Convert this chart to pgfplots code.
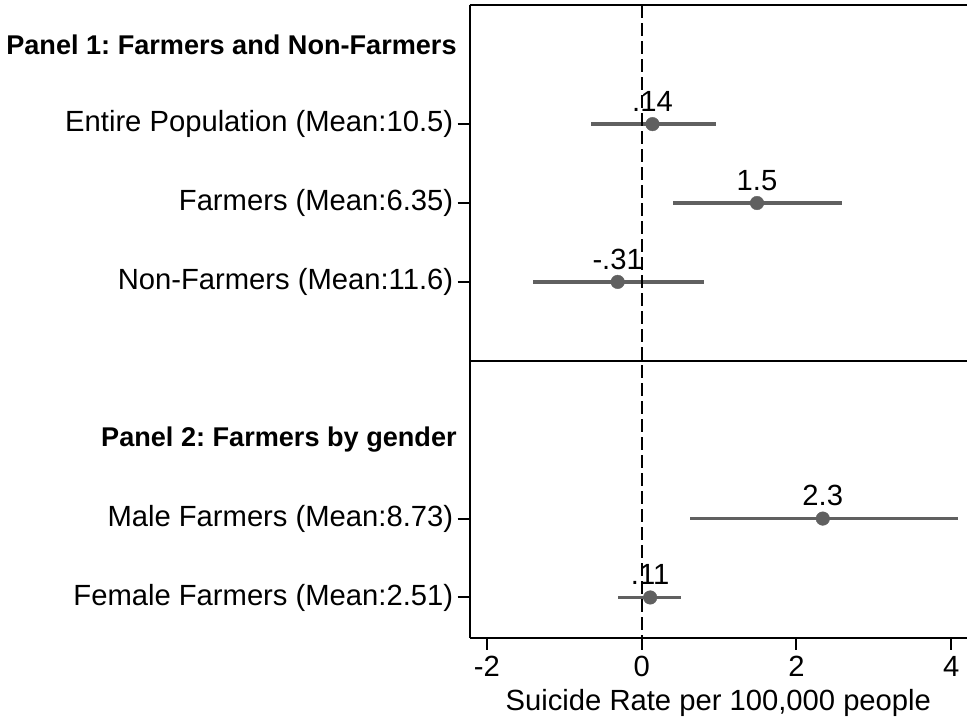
\documentclass[border=0pt]{standalone}
\usepackage{pgfplots}
\pgfplotsset{compat=1.18}
\usepackage{pgfplotstable}
\usepackage{fontspec}
\setmainfont{Liberation Sans}
\frenchspacing
\definecolor{ptgray}{RGB}{96,96,96}

\pgfplotstableread{
x y ep em lab
0.14 2 0.82 0.795 .14
1.49 3 1.10 1.09 1.5
-0.31 4 1.12 1.09 -.31
2.34 7 1.75 1.71 2.3
0.11 8 0.40 0.42 .11
}\estimates

\begin{document}
\begin{tikzpicture}
\begin{axis}[
  scale only axis,
  width=497.3pt, height=632.7pt,
  xmin=-2.222, xmax=4.203,
  ymin=0.49, ymax=8.51,
  y dir=reverse,
  axis x line*=box,
  axis y line*=left,
  axis line style={-, line width=2pt, black},
  xtick pos=left, ytick pos=left,
  tick align=outside,
  major tick length=12pt,
  every tick/.style={black, line width=2pt},
  xtick={-2,0,2,4},
  xticklabels={-2,0,2,4},
  ytick={2,3,4,7,8},
  yticklabels={Entire Population (Mean:10.5),Farmers (Mean:6.35),Non-Farmers (Mean:11.6),Male Farmers (Mean:8.73),Female Farmers (Mean:2.51)},
  extra y ticks={1,6},
  extra y tick labels={Panel 1: Farmers and Non-Farmers,Panel 2: Farmers by gender},
  extra y tick style={major tick length=0pt, tick label style={font=\fontsize{27.1}{30}\selectfont\bfseries, xshift=-8.5pt}},
  tick label style={font=\fontsize{29.2}{34}\selectfont},
  yticklabel style={xshift=-1pt},
  xticklabel style={yshift=-3pt},
  /pgf/number format/assume math mode=true,
  xlabel={Suicide Rate per 100,000 people},
  xlabel style={font=\fontsize{29.2}{34}\selectfont, yshift=-6pt},
  clip=false,
]
\addplot[only marks, mark=*, mark size=6.8pt, color=ptgray,
  error bars/.cd, x dir=both, x explicit, error mark=none,
  error bar style={line width=3.4pt, ptgray}]
  table[x=x, y=y, x error plus=ep, x error minus=em] {\estimates};
\addplot[only marks, mark=none, 
  nodes near coords, point meta=explicit symbolic,
  every node near coord/.append style={anchor=south, yshift=9pt, black, font=\fontsize{29.2}{34}\selectfont}]
  table[x=x, y=y, meta=lab] {\estimates};
\addplot[black, line width=2pt, dash pattern=on 13pt off 5pt] coordinates {(0,0.49) (0,8.51)};
\addplot[black, line width=2pt] coordinates {(-2.222,5) (4.203,5)};
\end{axis}
\pgfresetboundingbox
\path[use as bounding box] (current axis.south west) ++(-469.7pt,-79.3pt) rectangle ++(967pt,717pt);
\end{tikzpicture}
\end{document}
